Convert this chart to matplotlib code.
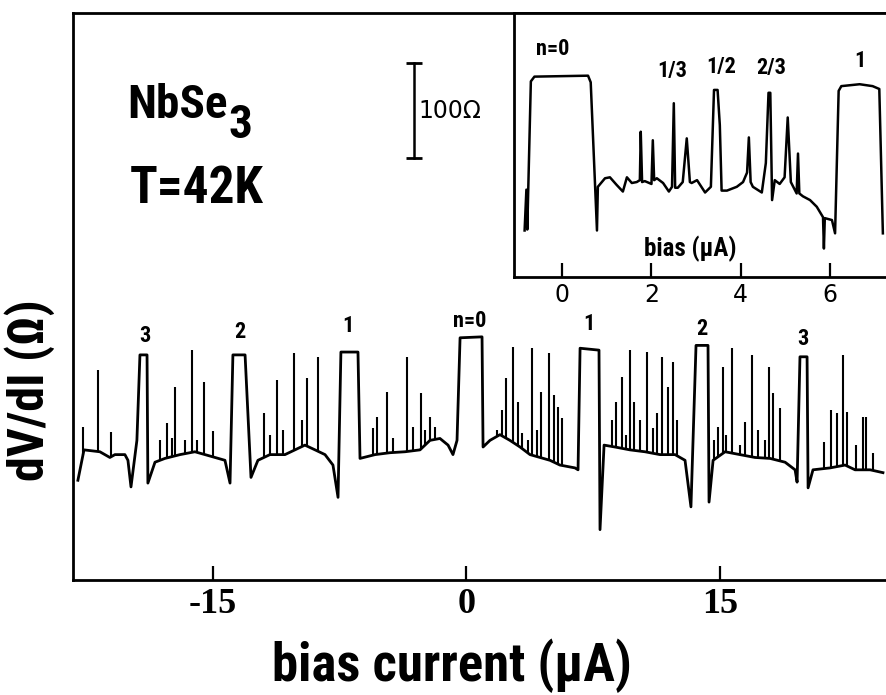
import matplotlib
matplotlib.use("Agg")
import matplotlib.pyplot as plt
import numpy as np
from matplotlib import font_manager

# main trace: baseline + plateaus (bias in uA, dV/dI in ohm, arbitrary offset)
main_x = [-22.99, -22.63, -21.69, -21.10, -20.80, -20.21, -20.03, -19.85, -19.50, -19.32,
          -18.90, -18.85, -18.43, -17.84, -16.95, -16.07, -15.47, -14.88, -14.29, -13.99,
          -13.82, -13.10, -12.75, -12.34, -11.63, -10.74, -10.15, -9.56, -8.96, -8.37,
          -7.90, -7.60, -7.43, -6.42, -6.30, -5.41, -4.53, -3.64, -2.75, -2.16,
          -1.57, -1.09, -0.80, -0.56, -0.38, 0.92, 0.98, 1.39, 1.98, 2.57,
          3.17, 3.76, 4.35, 4.94, 5.53, 6.42, 6.60, 6.72, 7.84, 7.90,
          8.14, 8.79, 9.67, 10.56, 11.45, 12.34, 12.93, 13.28, 13.58, 14.29,
          14.35, 14.59, 15.30, 16.18, 17.07, 17.96, 18.85, 19.44, 19.56, 19.73,
          20.15, 20.21, 20.50, 21.51, 22.40, 22.99, 23.88, 24.64]
main_y = [105, 137, 135, 129, 132, 132, 126, 98, 147, 237,
          237, 102, 124, 128, 132, 135, 132, 129, 126, 102,
          237, 237, 108, 126, 132, 132, 137, 142, 137, 132,
          121, 87, 240, 240, 128, 132, 134, 135, 137, 147,
          149, 142, 132, 147, 255, 256, 140, 147, 153, 147,
          140, 132, 129, 126, 121, 118, 116, 244, 242, 53,
          142, 140, 137, 135, 132, 132, 126, 77, 247, 247,
          82, 126, 135, 132, 129, 128, 124, 116, 103, 235,
          235, 97, 116, 118, 121, 116, 116, 113]

# narrow resonance spikes
spike_x = [-22.69, -21.80, -21.04, -18.13, -17.69, -17.40, -17.22, -16.65, -16.24, -15.95,
           -15.53, -15.00, -11.98, -11.63, -11.22, -10.86, -10.21, -9.73, -9.44, -8.79,
           -5.53, -5.30, -4.70, -4.35, -3.52, -3.17, -2.69, -2.46, -2.16, -1.86,
           1.80, 2.10, 2.34, 2.75, 3.05, 3.28, 3.64, 3.88, 4.17, 4.41,
           4.88, 5.18, 5.41, 5.65, 8.61, 8.85, 9.20, 9.44, 9.67, 9.91,
           10.27, 10.68, 11.04, 11.27, 11.57, 11.92, 12.22, 12.46, 14.65, 14.88,
           15.18, 15.36, 15.71, 16.18, 16.48, 16.89, 17.25, 17.66, 17.90, 18.14,
           18.55, 21.15, 21.57, 21.92, 22.28, 22.51, 23.04, 23.46, 23.64, 24.05]
spike_top = [161, 221, 156, 147, 165, 149, 203, 147, 242, 147,
             208, 157, 176, 153, 211, 158, 239, 168, 213, 235,
             160, 172, 198, 149, 235, 161, 197, 158, 172, 161,
             158, 179, 213, 245, 187, 155, 147, 244, 158, 198,
             239, 195, 182, 171, 168, 187, 214, 153, 242, 187,
             168, 240, 160, 176, 235, 203, 229, 168, 147, 161,
             224, 153, 244, 142, 166, 237, 158, 147, 224, 197,
             181, 145, 179, 176, 237, 177, 142, 172, 172, 134]

step_labels = ["3", "2", "1", "n=0", "1", "2", "3"]
step_label_x = [-19.05, -13.4, -7.0, 0.2, 7.25, 13.9, 19.9]
step_label_y = [245, 249, 256, 261, 258, 253, 242]

main_ticks = [-15, 0, 15]
main_ticklabels = ["-15", "0", "15"]

# inset: low bias region
inset_x = [-0.84, -0.80, -0.78, -0.70, -0.62, 0.58, 0.64, 0.78, 0.80, 0.96,
           1.07, 1.22, 1.36, 1.45, 1.56, 1.67, 1.74, 1.76, 1.79, 1.85,
           2.00, 2.03, 2.06, 2.12, 2.26, 2.39, 2.46, 2.50, 2.53, 2.59,
           2.70, 2.79, 2.86, 2.90, 3.02, 3.20, 3.33, 3.40, 3.48, 3.53,
           3.57, 3.69, 3.91, 4.05, 4.14, 4.18, 4.22, 4.27, 4.47, 4.56,
           4.62, 4.66, 4.70, 4.76, 4.87, 4.98, 5.05, 5.12, 5.25, 5.28,
           5.31, 5.39, 5.55, 5.70, 5.84, 5.86, 5.88, 6.04, 6.11, 6.19,
           6.25, 6.66, 6.95, 7.10, 7.18]
inset_y = [49, 92, 50, 206, 211, 212, 205, 49, 95, 104,
           105, 97, 90, 105, 99, 100, 102, 153, 100, 101,
           98, 144, 102, 104, 99, 90, 95, 183, 94, 94,
           100, 146, 100, 99, 102, 89, 95, 197, 197, 160,
           91, 91, 95, 100, 110, 147, 100, 95, 89, 120,
           194, 194, 81, 102, 98, 105, 168, 100, 88, 130,
           88, 85, 81, 74, 63, 30, 62, 60, 46, 196,
           201, 203, 201, 198, 46]
inset_labels = ["n=0", "1/3", "1/2", "2/3", "1"]
inset_label_x = [-0.21, 2.47, 3.55, 4.69, 6.66]
inset_label_y = [228, 205, 210, 208, 216]
inset_ticks = [0, 2, 4, 6]

names = {f.name for f in font_manager.fontManager.ttflist}


def pick(cands):
    return next((c for c in cands if c in names), "DejaVu Sans")


COND = pick(["Liberation Sans Narrow", "Roboto Condensed", "DejaVu Sans Condensed",
             "Open Sans Condensed", "DejaVu Sans"])
SERIF = pick(["Liberation Serif", "DejaVu Serif"])
cond = dict(family=COND, weight="bold", stretch="condensed")

fig = plt.figure(figsize=(8.86, 6.95), dpi=100)
ax = fig.add_axes([0.0824, 0.1655, 0.9176, 0.8158])

ax.plot(main_x, main_y, color="black", lw=2.0, solid_joinstyle="round")
base = np.interp(spike_x, main_x, main_y)
ax.vlines(spike_x, base, spike_top, color="black", lw=1.5)

for lab, x, y in zip(step_labels, step_label_x, step_label_y):
    ax.text(x, y, lab, ha="center", va="bottom", fontsize=16, **cond)

ax.set_xlim(-23.28, 24.82)
ax.set_ylim(0, 597)
ax.set_xticks(main_ticks)
ax.set_xticklabels(main_ticklabels, family=SERIF, weight="bold", fontsize=26)
ax.set_yticks([])
ax.tick_params(axis="x", direction="in", length=10, width=1.6, pad=6)
ax.spines["right"].set_visible(False)
for s in ["top", "left", "bottom"]:
    ax.spines[s].set_linewidth(2.0)

ax.set_xlabel("bias current (µA)", fontsize=38, **cond)
ax.xaxis.set_label_coords(0.466, -0.103)
ax.set_ylabel("dV/dI (Ω)", fontsize=36, **cond)
ax.yaxis.set_label_coords(-0.022, 0.335)

# sample / temperature
nb = ax.text(-20.09, 486, "NbSe", fontsize=34, ha="left", va="baseline", **cond)
ax.annotate("3", xy=(1, 0), xycoords=nb, xytext=(1, -20), textcoords="offset pixels",
            fontsize=34, ha="left", va="bottom", **cond)
ax.text(-19.91, 397, "T=42K", fontsize=37, ha="left", va="baseline", **cond)

# 100 ohm scale bar
bar_x, bar_lo = -3.11, 444
ax.plot([bar_x, bar_x], [bar_lo, bar_lo + 100], color="black", lw=1.8,
        marker="_", markersize=11, mew=2)
ax.text(bar_x + 0.25, bar_lo + 50, "100Ω", fontsize=17, ha="left", va="center",
        family="DejaVu Sans")

# inset
ins = fig.add_axes([0.580, 0.6014, 0.420, 0.3799])
ins.plot(inset_x, inset_y, color="black", lw=1.8, solid_joinstyle="round")
for lab, x, y in zip(inset_labels, inset_label_x, inset_label_y):
    ins.text(x, y, lab, ha="center", va="bottom", fontsize=16, **cond)
ins.text(2.86, 30, "bias (µA)", ha="center", va="center", fontsize=18, **cond)
ins.set_xlim(-1.08, 7.25)
ins.set_ylim(0, 278)
ins.set_xticks(inset_ticks)
ins.set_xticklabels([str(t) for t in inset_ticks], fontsize=17, family="DejaVu Sans")
ins.set_yticks([])
ins.tick_params(axis="x", direction="in", length=10, width=1.6, pad=4)
ins.spines["right"].set_visible(False)
for s in ["top", "left", "bottom"]:
    ins.spines[s].set_linewidth(2.0)

fig.savefig("out.png", dpi=100)
